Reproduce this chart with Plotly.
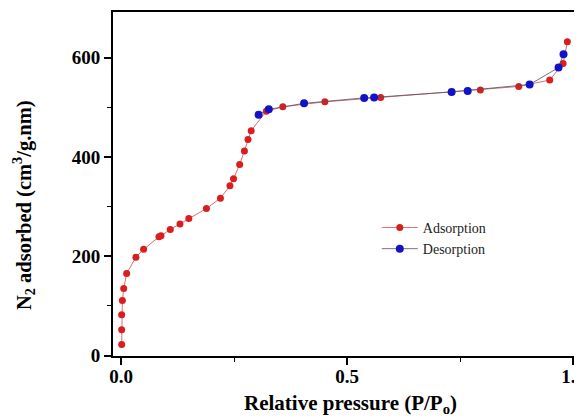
import plotly.graph_objects as go

# Adsorption branch (red)
ads_p = [0.0015, 0.0015, 0.0015, 0.003, 0.006, 0.0125, 0.033, 0.050, 0.084, 0.0885,
         0.109, 0.1305, 0.150, 0.189, 0.220, 0.241, 0.249, 0.2625, 0.273, 0.281,
         0.288, 0.3215, 0.358, 0.451, 0.5745, 0.795, 0.880, 0.9485, 0.978, 0.9875]
ads_v = [22, 52, 82, 111, 135, 165, 198, 214, 239, 241,
         254, 265, 276, 296, 317, 342, 356, 385, 412, 435,
         453, 492, 501, 511, 520, 535, 542, 555, 588, 632]

# Desorption branch (blue)
des_p = [0.979, 0.968, 0.904, 0.767, 0.7315, 0.560, 0.538, 0.405, 0.327, 0.3045]
des_v = [607, 580, 546, 533, 531, 520, 519, 508, 496, 485]

x_ticks = [0.0, 0.5, 1.0]
y_ticks = [0, 200, 400, 600]

FONT = "Times New Roman, Liberation Serif, serif"

fig = go.Figure()
fig.add_trace(go.Scatter(
    x=ads_p, y=ads_v, name="Adsorption", mode="lines+markers",
    line=dict(color="#e07070", width=1),
    marker=dict(color="#d81e1e", size=7),
))
fig.add_trace(go.Scatter(
    x=des_p, y=des_v, name="Desorption", mode="lines+markers",
    line=dict(color="#50506a", width=0.8),
    marker=dict(color="#1212c8", size=8),
))

axis_common = dict(
    showgrid=False, zeroline=False, showline=True, linecolor="black", linewidth=2,
    mirror=True, ticks="outside", ticklen=7, tickwidth=1.5, tickcolor="black",
    tickfont=dict(family=FONT, size=19, color="black", weight="bold"),
    automargin=False, ticklabeloverflow="allow",
)

fig.update_xaxes(
    range=[-0.0177, 1.0044], tickvals=x_ticks, ticktext=[f"{v:.1f}" for v in x_ticks],
    minor=dict(ticks="outside", ticklen=4, tickwidth=1, tickcolor="black", dtick=0.25, tick0=0),
    ticklabelstandoff=-5,
    **axis_common,
)
fig.update_yaxes(
    range=[-1, 692], tickvals=y_ticks, ticktext=[str(v) for v in y_ticks],
    minor=dict(ticks="outside", ticklen=4, tickwidth=1, tickcolor="black", dtick=100, tick0=0),
    **axis_common,
)

fig.add_annotation(
    text="Relative pressure (P/P<sub>o</sub>)", xref="paper", yref="paper",
    x=0.515, y=-0.1395, xanchor="center", yanchor="middle", showarrow=False,
    font=dict(family=FONT, size=21, color="black", weight="bold"),
)
fig.add_annotation(
    text="N<sub>2</sub> adsorbed (cm<sup>3</sup>/g.nm)", xref="paper", yref="paper",
    x=-0.1926, y=0.439, xanchor="center", yanchor="middle", textangle=-90, showarrow=False,
    font=dict(family=FONT, size=20.5, color="black", weight="bold"),
)

# page body has an 8px margin: figure is sized to fill the rest of the window
fig.update_layout(
    width=574, height=408,
    margin=dict(l=105, r=7, t=4, b=60),
    paper_bgcolor="white", plot_bgcolor="white",
    showlegend=True,
    legend=dict(
        x=0.571, y=0.419, xanchor="left", yanchor="top",
        font=dict(family=FONT, size=14, color="#222"),
        bgcolor="rgba(0,0,0,0)", tracegroupgap=0, itemwidth=36,
    ),
)

fig.write_html("out.html")
